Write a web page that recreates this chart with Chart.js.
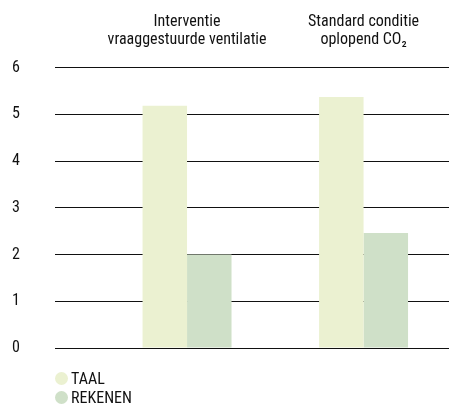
<!DOCTYPE html>
<html>
<head>
<meta charset="utf-8">
<script src="https://cdn.jsdelivr.net/npm/chart.js@4/dist/chart.umd.min.js"></script>
<style>
  html, body { margin: 0; padding: 0; background: #fff; }
  #wrap { position: relative; width: 449px; height: 405px; }
  #c { position: absolute; left: 0; top: 0; }
  #legend { position: absolute; left: 55px; top: 369px; font-family: "Roboto Condensed", "Open Sans", sans-serif; font-stretch: condensed; font-size: 16px; color: #111; }
  .item { display: flex; align-items: center; height: 19px; }
  .dot { width: 13px; height: 13px; border-radius: 50%; margin-right: 3px; }
</style>
</head>
<body>
<div id="wrap">
  <canvas id="c" width="449" height="405"></canvas>
  <div id="legend"></div>
</div>
<script>
const categories = [["Interventie", "vraaggestuurde ventilatie"], ["Standard conditie", "oplopend CO\u2082"]];
const categoryPositions = [1, 2];
const seriesNames = ["TAAL", "REKENEN"];
const taalValues = [5.18, 5.37];
const rekenenValues = [2.0, 2.46];
const yTicks = [0, 1, 2, 3, 4, 5, 6];
const colors = ["#ebf1d1", "#cfe0c8"];

const FONT = "'Roboto Condensed', 'Open Sans', sans-serif";

const datasets = [taalValues, rekenenValues].map((vals, i) => ({
  label: seriesNames[i],
  data: vals.map((v, j) => ({ x: categoryPositions[j], y: v })),
  backgroundColor: colors[i],
  borderWidth: 0,
  categoryPercentage: 0.504,
  barPercentage: 1
}));

new Chart(document.getElementById('c'), {
  type: 'bar',
  data: { datasets },
  options: {
    responsive: false,
    animation: false,
    layout: { padding: { left: 12, right: 0, top: 0, bottom: 57 } },
    plugins: { legend: { display: false }, tooltip: { enabled: false } },
    scales: {
      x: {
        type: 'linear',
        position: 'top',
        min: 0.252,
        max: 2.484,
        offset: false,
        grid: { display: false, drawTicks: false },
        border: { display: false },
        afterBuildTicks: (s) => { s.ticks = categoryPositions.map(v => ({ value: v })); },
        afterFit: (s) => { s.height = 67.5; },
        ticks: {
          autoSkip: false,
          maxRotation: 0,
          padding: 19,
          color: '#111',
          font: { family: FONT, size: 16, lineHeight: 1.1 },
          callback: (v) => { const i = categoryPositions.indexOf(v); return i >= 0 ? categories[i] : ''; }
        }
      },
      y: {
        min: 0,
        max: 6,
        z: 1,
        afterBuildTicks: (s) => { s.ticks = yTicks.map(v => ({ value: v })); },
        afterFit: (s) => { s.width = 43; },
        grid: { color: '#111', lineWidth: 1, drawTicks: false },
        border: { display: false },
        ticks: {
          crossAlign: 'far',
          padding: 10,
          color: '#111',
          font: { family: FONT, size: 16 }
        }
      }
    }
  }
});

const legend = document.getElementById('legend');
seriesNames.forEach((name, i) => {
  const it = document.createElement('div');
  it.className = 'item';
  const d = document.createElement('span');
  d.className = 'dot';
  d.style.background = colors[i];
  const t = document.createElement('span');
  t.textContent = name;
  it.appendChild(d); it.appendChild(t);
  legend.appendChild(it);
});
</script>
</body>
</html>
